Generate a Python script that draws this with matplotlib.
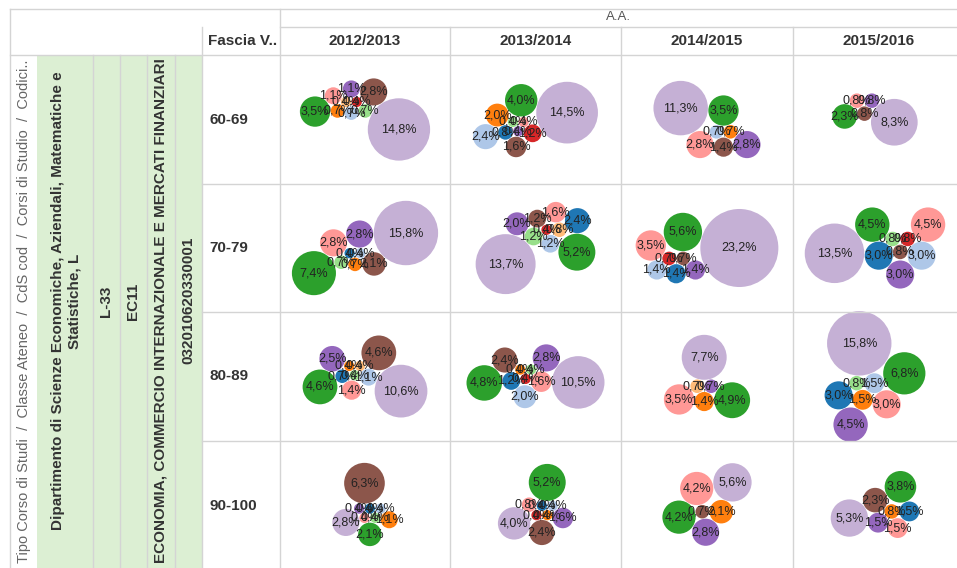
import numpy as np
import matplotlib
matplotlib.use('Agg')
import matplotlib.pyplot as plt
from matplotlib.patches import Circle, Rectangle

plt.rcParams['font.family'] = ['Liberation Sans', 'DejaVu Sans']

# --- data -----------------------------------------------------------------
anni = ['2012/2013', '2013/2014', '2014/2015', '2015/2016']
fasce = ['60-69', '70-79', '80-89', '90-100']

# categories (colour legend not shown in the reference)
categorie = ['Cat. 1', 'Cat. 2', 'Cat. 3', 'Cat. 4', 'Cat. 5', 'Cat. 6',
             'Cat. 7', 'Cat. 8', 'Cat. 9', 'Cat. 10', 'Cat. 11']
colori = ['#1f77b4', '#aec7e8', '#ff7f0e', '#ffbb78', '#2ca02c', '#98df8a',
          '#d62728', '#ff9896', '#9467bd', '#c5b0d5', '#8c564b']

# % per category, one list per (fascia, anno); 0 = not present
f60_2012 = [0, 0.7, 0.7, 0.4, 3.5, 0.7, 0.4, 1.1, 1.1, 14.8, 2.8]
f60_2013 = [0.8, 2.4, 2.0, 0, 4.0, 0.4, 1.2, 0.4, 0.4, 14.5, 1.6]
f60_2014 = [0, 0.7, 0.7, 0, 3.5, 0, 0, 2.8, 2.8, 11.3, 1.4]
f60_2015 = [0, 0, 0, 0, 2.3, 0, 0, 0.8, 0.8, 8.3, 0.8]

f70_2012 = [0.4, 0.4, 0.7, 0, 7.4, 0.7, 0, 2.8, 2.8, 15.8, 2.1]
f70_2013 = [2.4, 1.2, 0, 0.8, 5.2, 1.2, 0.4, 1.6, 2.0, 13.7, 1.2]
f70_2014 = [1.4, 1.4, 0, 0, 5.6, 0, 0.7, 3.5, 1.4, 23.2, 0.7]
f70_2015 = [3.0, 3.0, 0, 0, 4.5, 0.8, 0.8, 4.5, 3.0, 13.5, 0.8]

f80_2012 = [0.7, 1.1, 0.4, 0.4, 4.6, 0.4, 0, 1.4, 2.5, 10.6, 4.6]
f80_2013 = [1.2, 2.0, 0.4, 0, 4.8, 0.4, 0.4, 1.6, 2.8, 10.5, 2.4]
f80_2014 = [0, 0, 1.4, 0.7, 4.9, 0, 0, 3.5, 0.7, 7.7, 0]
f80_2015 = [3.0, 1.5, 1.5, 0, 6.8, 0.8, 0, 3.0, 4.5, 15.8, 0]

f90_2012 = [0.4, 0.4, 1.1, 0, 2.1, 0.4, 0, 0.4, 0.4, 2.8, 6.3]
f90_2013 = [0.4, 0.4, 0.4, 0, 5.2, 0, 0.4, 0.8, 1.6, 4.0, 2.4]
f90_2014 = [0, 0, 2.1, 0, 4.2, 0, 0, 4.2, 2.8, 5.6, 0.7]
f90_2015 = [1.5, 0, 0.8, 0, 3.8, 0, 0, 1.5, 1.5, 5.3, 2.3]

valori = [[f60_2012, f60_2013, f60_2014, f60_2015],
          [f70_2012, f70_2013, f70_2014, f70_2015],
          [f80_2012, f80_2013, f80_2014, f80_2015],
          [f90_2012, f90_2013, f90_2014, f90_2015]]


def pack_circles(radii, pad=0.5, yw=1.3):
    # greedy packing, smallest first (small ones end up in the middle,
    # big ones around them); each new circle is tangent to two placed
    # ones, as close as possible to the centroid (vertical distance
    # weighted a bit more so the cluster fits the wide cell)
    order = sorted(range(len(radii)), key=lambda i: radii[i])
    centers = {}
    for i in order:
        r = radii[i]
        done = list(centers)
        if not done:
            centers[i] = np.array([0.0, 0.0])
            continue
        if len(done) == 1:
            j = done[0]
            centers[i] = centers[j] + np.array([radii[j] + r + pad, 0.0])
            continue
        cg = np.mean([centers[j] for j in done], axis=0)
        best, bestd = None, np.inf
        for a in range(len(done)):
            for b in range(a + 1, len(done)):
                pa, pb = centers[done[a]], centers[done[b]]
                da = radii[done[a]] + r + pad
                db = radii[done[b]] + r + pad
                d = np.linalg.norm(pb - pa)
                if d == 0 or d > da + db or d < abs(da - db):
                    continue
                x = (da ** 2 - db ** 2 + d ** 2) / (2 * d)
                h = np.sqrt(max(da ** 2 - x ** 2, 0))
                u = (pb - pa) / d
                perp = np.array([-u[1], u[0]])
                for s in (1, -1):
                    p = pa + x * u + s * h * perp
                    ok = all(np.linalg.norm(p - centers[k]) >= radii[k] + r + pad - 1e-6
                             for k in done)
                    if ok:
                        dd = np.hypot(p[0] - cg[0], yw * (p[1] - cg[1]))
                        if dd < bestd:
                            best, bestd = p, dd
        centers[i] = best
    return [centers[i] for i in range(len(radii))]


# --- layout (pixels) ------------------------------------------------------
W, H = 957, 568
col_x = [280, 450, 621, 793, 965]
row_y = [55, 184, 312, 441, 570]
k_rad = 8.1          # radius = k * sqrt(%)
grid_c = '#d4d4d4'
green = '#dcefd3'
txt = '#333333'

fig = plt.figure(figsize=(W / 100, H / 100), dpi=100)
ax = fig.add_axes([0, 0, 1, 1])
ax.set_xlim(0, W)
ax.set_ylim(H, 0)
ax.axis('off')

# green header cells
ax.add_patch(Rectangle((37, 55), 202 - 37, H - 55, color=green, lw=0))

# grid lines
lw = 1.0
ax.plot([10, W], [8.5, 8.5], color=grid_c, lw=lw)
ax.plot([10, 10], [8.5, H], color=grid_c, lw=lw)
ax.plot([280, W], [27, 27], color=grid_c, lw=lw)
ax.plot([10, W], [55, 55], color=grid_c, lw=lw)
ax.plot([280, 280], [8.5, H], color=grid_c, lw=lw)
ax.plot([202, 202], [27, H], color=grid_c, lw=lw)
for x in [93, 120, 147, 175]:
    ax.plot([x, x], [55, H], color=grid_c, lw=lw)
for x in col_x[1:4]:
    ax.plot([x, x], [27, H], color=grid_c, lw=lw)
for y in row_y[1:4]:
    ax.plot([202, W], [y, y], color=grid_c, lw=lw)

# headers
ax.text(618, 17, 'A.A.', ha='center', va='center', fontsize=9.5, color='#555555')
for j, a in enumerate(anni):
    ax.text((col_x[j] + min(col_x[j + 1], W)) / 2 + (4 if j == 3 else 0), 41, a,
            ha='center', va='center', fontsize=11, fontweight='bold', color=txt)
ax.text(208, 41, 'Fascia V..', ha='left', va='center', fontsize=11,
        fontweight='bold', color=txt)

ax.text(24, 563, 'Tipo Corso di Studi  /  Classe Ateneo  /  CdS cod  /  Corsi di Studio  /  Codici..',
        rotation=90, ha='center', va='bottom', fontsize=10.5, color='#666666')
ax.text(66, 301, 'Dipartimento di Scienze Economiche, Aziendali, Matematiche e\nStatistiche, L',
        rotation=90, ha='center', va='center', multialignment='center',
        fontsize=11, fontweight='bold', color=txt, linespacing=1.2)
ax.text(106, 301, 'L-33', rotation=90, ha='center', va='center',
        fontsize=11, fontweight='bold', color=txt)
ax.text(133, 301, 'EC11', rotation=90, ha='center', va='center',
        fontsize=11, fontweight='bold', color=txt)
ax.text(161, 311, 'ECONOMIA, COMMERCIO INTERNAZIONALE E MERCATI FINANZIARI',
        rotation=90, ha='center', va='center', fontsize=11, fontweight='bold', color=txt)
ax.text(188, 300, '032010620330001', rotation=90, ha='center', va='center',
        fontsize=11, fontweight='bold', color=txt)

for i, f in enumerate(fasce):
    ax.text(209, (row_y[i] + row_y[i + 1]) / 2, f, ha='left', va='center',
            fontsize=11, fontweight='bold', color=txt)

# bubbles
for i in range(len(fasce)):
    for j in range(len(anni)):
        vals = valori[i][j]
        idx = [c for c in range(len(categorie)) if vals[c] > 0]
        radii = [k_rad * np.sqrt(vals[c]) for c in idx]
        cen = pack_circles(radii)
        xs = [p[0] for p in cen]
        ys = [p[1] for p in cen]
        x0 = min(x - r for x, r in zip(xs, radii))
        x1 = max(x + r for x, r in zip(xs, radii))
        y0 = min(y - r for y, r in zip(ys, radii))
        y1 = max(y + r for y, r in zip(ys, radii))
        cx = (col_x[j] + min(col_x[j + 1], W)) / 2
        cy = (row_y[i] + min(row_y[i + 1], H)) / 2
        dx = cx - (x0 + x1) / 2
        dy = cy - (y0 + y1) / 2
        for c, (x, y), r in zip(idx, cen, radii):
            ax.add_patch(Circle((x + dx, y + dy), r, color=colori[c], lw=0))
        for c, (x, y), r in zip(idx, cen, radii):
            lab = ('%.1f' % vals[c]).replace('.', ',') + '%'
            ax.text(x + dx, y + dy, lab, ha='center', va='center',
                    fontsize=9, color='#222222')

fig.savefig('out.png', dpi=100)
